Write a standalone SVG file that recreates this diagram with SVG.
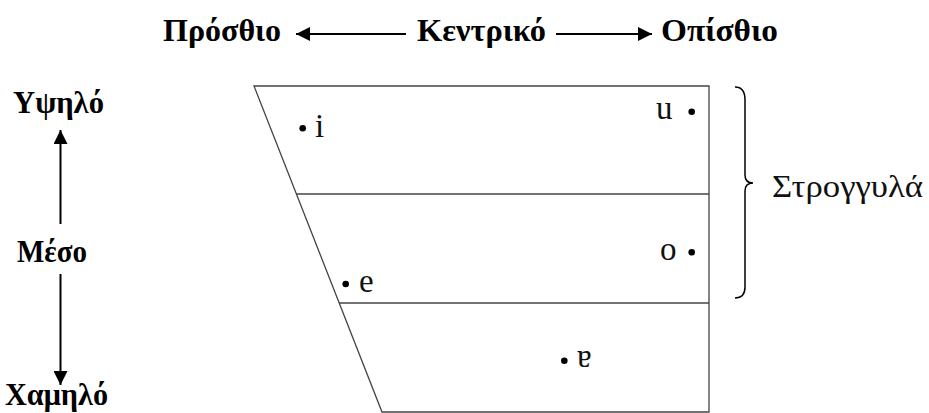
<svg xmlns="http://www.w3.org/2000/svg" width="929" height="413" viewBox="0 0 929 413">
<style>
.lbl{font-family:"Liberation Serif","Times New Roman",serif;font-weight:bold;font-size:31px;fill:#000}
.v{font-family:"Liberation Serif","Times New Roman",serif;font-size:33px;fill:#111}
.grid{fill:none;stroke:#444;stroke-width:1.3}
.arr{stroke:#000;stroke-width:2;fill:none}
</style>
<defs>
<marker id="ah" viewBox="0 0 10 10" refX="10" refY="5" markerWidth="16" markerHeight="14" markerUnits="userSpaceOnUse" orient="auto">
<path d="M0,0 L10,5 L0,10 Z" fill="#000"/>
</marker>
</defs>
<rect width="929" height="413" fill="#fff"/>
<g id="chart">
<path class="grid" d="M254,86 L709,86 L709,412 L382,412 Z"/>
<line class="grid" x1="296.5" y1="194" x2="709" y2="194"/>
<line class="grid" x1="339" y1="303" x2="709" y2="303"/>
</g>
<g id="vowel-i"><circle cx="302.7" cy="128.3" r="3.3"/><text class="v" x="315" y="137">i</text></g>
<g id="vowel-u"><text class="v" x="656" y="119">u</text><circle cx="691.7" cy="111.7" r="3.3"/></g>
<g id="vowel-o"><text class="v" x="660" y="260">o</text><circle cx="691.7" cy="252.3" r="3.3"/></g>
<g id="vowel-e"><circle cx="345.7" cy="284" r="3.3"/><text class="v" x="359" y="292">e</text></g>
<g id="vowel-a"><circle cx="564.3" cy="360.7" r="3.3"/><text class="v" x="577" y="367">ɐ</text></g>
<g id="front"><text class="lbl" x="163" y="41" textLength="118" lengthAdjust="spacingAndGlyphs">Πρόσθιο</text></g>
<g id="central"><text class="lbl" x="417" y="41" textLength="129" lengthAdjust="spacingAndGlyphs">Κεντρικό</text></g>
<g id="back"><text class="lbl" x="661" y="41" textLength="117" lengthAdjust="spacingAndGlyphs">Οπίσθιο</text></g>
<g id="high"><text class="lbl" x="13" y="113" textLength="91" lengthAdjust="spacingAndGlyphs">Υψηλό</text></g>
<g id="mid"><text class="lbl" x="17" y="262" textLength="70" lengthAdjust="spacingAndGlyphs">Μέσο</text></g>
<g id="low"><text class="lbl" x="5" y="405" textLength="103" lengthAdjust="spacingAndGlyphs">Χαμηλό</text></g>
<g id="rounded">
<path d="M735,87 C742,87 745,92 745,100 L745,175 C745,180 748,183 753,183 C748,183 745,186 745,191 L745,287 C745,294 742,298 735,298" fill="none" stroke="#000" stroke-width="1.5"/>
<text x="772" y="197" font-family="Liberation Serif,serif" font-size="32" fill="#111" textLength="151" lengthAdjust="spacingAndGlyphs">Στρογγυλά</text>
</g>
<g id="connectors">
<line class="arr" x1="406" y1="34" x2="296" y2="34" marker-end="url(#ah)"/>
<line class="arr" x1="556" y1="34" x2="652" y2="34" marker-end="url(#ah)"/>
<line class="arr" x1="60.5" y1="224" x2="60.5" y2="130" marker-end="url(#ah)"/>
<line class="arr" x1="60.5" y1="274" x2="60.5" y2="385" marker-end="url(#ah)"/>
</g>
</svg>
